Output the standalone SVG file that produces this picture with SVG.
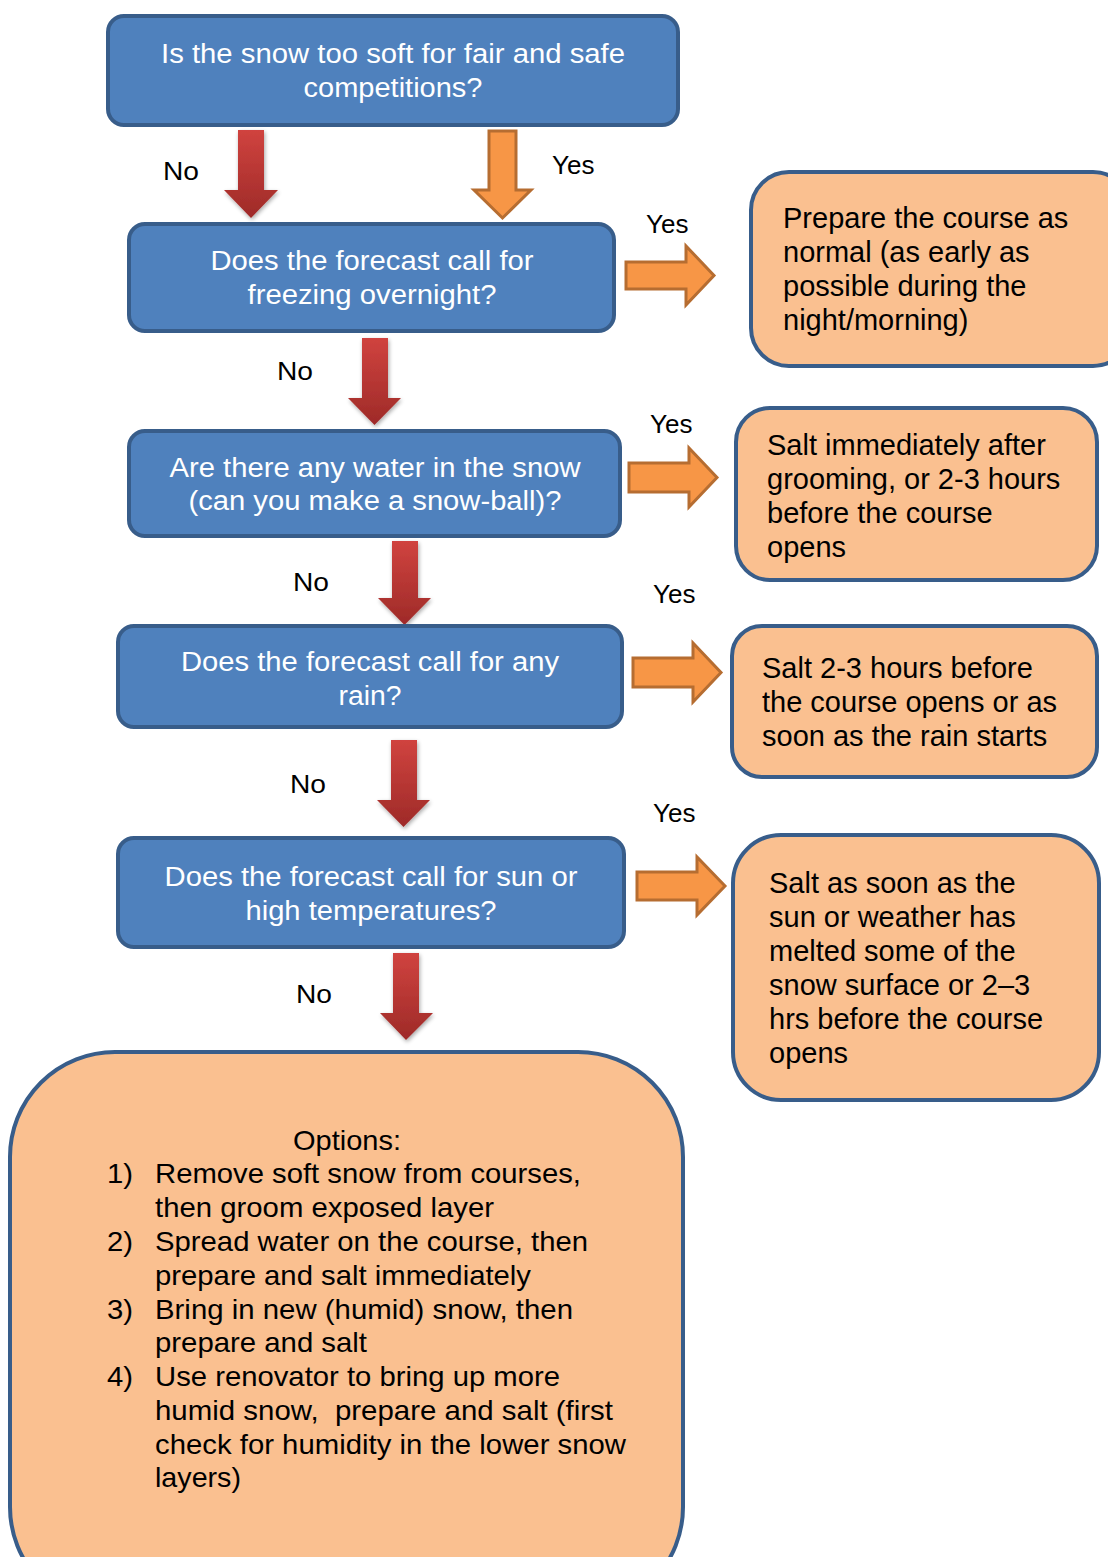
<svg xmlns="http://www.w3.org/2000/svg" width="1108" height="1557" viewBox="0 0 1108 1557">
<defs>
<linearGradient id="red" x1="0" y1="0" x2="0" y2="1">
<stop offset="0" stop-color="#D0433F"/>
<stop offset="1" stop-color="#9E2A28"/>
</linearGradient>
<filter id="sh" x="-30%" y="-30%" width="160%" height="160%">
<feGaussianBlur in="SourceAlpha" stdDeviation="2"/>
<feOffset dx="1" dy="2"/>
<feComponentTransfer><feFuncA type="linear" slope="0.35"/></feComponentTransfer>
<feMerge><feMergeNode/><feMergeNode in="SourceGraphic"/></feMerge>
</filter>
</defs>
<style>
.q{fill:#4F81BD;stroke:#385D8A;stroke-width:4}
.a{fill:#FAC090;stroke:#385D8A;stroke-width:4}
.qt{font-family:"Liberation Sans",Arial,sans-serif;font-size:27px;fill:#fff;text-anchor:middle}
.at{font-family:"Liberation Sans",Arial,sans-serif;font-size:29px;fill:#000}
.ot{font-family:"Liberation Sans",Arial,sans-serif;font-size:28px;fill:#000}
.lb{font-family:"Liberation Sans",Arial,sans-serif;font-size:26px;fill:#000}
.ra{fill:url(#red);filter:url(#sh)}
.oa{fill:#F79646;stroke:#B66D31;stroke-width:3}
</style>

<g id="connectors">
<path class="ra" d="M238,130 H264 V190 H278 L251,218 L224,190 H238 Z"/>
<path class="oa" d="M489,131 H516 V190 H531 L502.5,218 L474,190 H489 Z"/>
<path class="ra" d="M362,338 H388 V398 H401 L374.5,425 L348,398 H362 Z"/>
<path class="ra" d="M392,541 H418 V598 H431 L404.5,625 L378,598 H392 Z"/>
<path class="ra" d="M391,740 H417 V800 H430 L403.5,827 L377,800 H391 Z"/>
<path class="ra" d="M393,953 H419 V1013 H433 L406,1040 L380,1013 H393 Z"/>
<path class="oa" d="M626,262 H686 V246 L714,275.5 L686,305 V289 H626 Z"/>
<path class="oa" d="M629,463 H689 V448 L717,477.5 L689,507 V492 H629 Z"/>
<path class="oa" d="M633,658 H693 V643 L721,672.5 L693,702 V687 H633 Z"/>
<path class="oa" d="M637,872 H697 V857 L725,886 L697,915 V900 H637 Z"/>
<text class="lb" x="163" y="180" textLength="36" lengthAdjust="spacingAndGlyphs">No</text>
<text class="lb" x="552" y="174">Yes</text>
<text class="lb" x="646" y="233">Yes</text>
<text class="lb" x="277" y="380" textLength="36" lengthAdjust="spacingAndGlyphs">No</text>
<text class="lb" x="650" y="433">Yes</text>
<text class="lb" x="293" y="591" textLength="36" lengthAdjust="spacingAndGlyphs">No</text>
<text class="lb" x="653" y="603">Yes</text>
<text class="lb" x="290" y="793" textLength="36" lengthAdjust="spacingAndGlyphs">No</text>
<text class="lb" x="653" y="822">Yes</text>
<text class="lb" x="296" y="1003" textLength="36" lengthAdjust="spacingAndGlyphs">No</text>
</g>

<g id="q1">
<rect class="q" x="108" y="16" width="570" height="109" rx="16"/>
<text class="qt" x="393" y="63" textLength="464" lengthAdjust="spacingAndGlyphs">Is the snow too soft for fair and safe</text>
<text class="qt" x="393" y="97" textLength="179" lengthAdjust="spacingAndGlyphs">competitions?</text>
</g>
<g id="q2">
<rect class="q" x="129" y="224" width="485" height="107" rx="16"/>
<text class="qt" x="372" y="270" textLength="323" lengthAdjust="spacingAndGlyphs">Does the forecast call for</text>
<text class="qt" x="372" y="304" textLength="249" lengthAdjust="spacingAndGlyphs">freezing overnight?</text>
</g>
<g id="q3">
<rect class="q" x="129" y="431" width="491" height="105" rx="16"/>
<text class="qt" x="375" y="477" textLength="411" lengthAdjust="spacingAndGlyphs">Are there any water in the snow</text>
<text class="qt" x="375" y="510" textLength="373" lengthAdjust="spacingAndGlyphs">(can you make a snow-ball)?</text>
</g>
<g id="q4">
<rect class="q" x="118" y="626" width="504" height="101" rx="16"/>
<text class="qt" x="370" y="671" textLength="378" lengthAdjust="spacingAndGlyphs">Does the forecast call for any</text>
<text class="qt" x="370" y="705" textLength="63" lengthAdjust="spacingAndGlyphs">rain?</text>
</g>
<g id="q5">
<rect class="q" x="118" y="838" width="506" height="109" rx="16"/>
<text class="qt" x="371" y="886" textLength="413" lengthAdjust="spacingAndGlyphs">Does the forecast call for sun or</text>
<text class="qt" x="371" y="920" textLength="251" lengthAdjust="spacingAndGlyphs">high temperatures?</text>
</g>

<g id="a1">
<rect class="a" x="751" y="172" width="380" height="194" rx="38"/>
<text class="at" x="783" y="228">Prepare the course as</text>
<text class="at" x="783" y="262">normal (as early as</text>
<text class="at" x="783" y="296">possible during the</text>
<text class="at" x="783" y="330">night/morning)</text>
</g>
<g id="a2">
<rect class="a" x="736" y="408" width="361" height="172" rx="34"/>
<text class="at" x="767" y="455">Salt immediately after</text>
<text class="at" x="767" y="489">grooming, or 2-3 hours</text>
<text class="at" x="767" y="523">before the course</text>
<text class="at" x="767" y="557">opens</text>
</g>
<g id="a3">
<rect class="a" x="732" y="626" width="365" height="151" rx="30"/>
<text class="at" x="762" y="678">Salt 2-3 hours before</text>
<text class="at" x="762" y="712">the course opens or as</text>
<text class="at" x="762" y="746">soon as the rain starts</text>
</g>
<g id="a4">
<rect class="a" x="733" y="835" width="366" height="265" rx="48"/>
<text class="at" x="769" y="893">Salt as soon as the</text>
<text class="at" x="769" y="927">sun or weather has</text>
<text class="at" x="769" y="961">melted some of the</text>
<text class="at" x="769" y="995">snow surface or 2–3</text>
<text class="at" x="769" y="1029">hrs before the course</text>
<text class="at" x="769" y="1063">opens</text>
</g>

<g id="options">
<rect class="a" x="10" y="1052" width="673" height="560" rx="105"/>
<text class="ot" x="293" y="1150" textLength="108" lengthAdjust="spacingAndGlyphs">Options:</text>
<text class="ot" x="107" y="1183" textLength="26" lengthAdjust="spacingAndGlyphs">1)</text>
<text class="ot" x="155" y="1183" textLength="426" lengthAdjust="spacingAndGlyphs">Remove soft snow from courses,</text>
<text class="ot" x="155" y="1217" textLength="339" lengthAdjust="spacingAndGlyphs">then groom exposed layer</text>
<text class="ot" x="107" y="1251" textLength="26" lengthAdjust="spacingAndGlyphs">2)</text>
<text class="ot" x="155" y="1251" textLength="433" lengthAdjust="spacingAndGlyphs">Spread water on the course, then</text>
<text class="ot" x="155" y="1285" textLength="376" lengthAdjust="spacingAndGlyphs">prepare and salt immediately</text>
<text class="ot" x="107" y="1319" textLength="26" lengthAdjust="spacingAndGlyphs">3)</text>
<text class="ot" x="155" y="1319" textLength="418" lengthAdjust="spacingAndGlyphs">Bring in new (humid) snow, then</text>
<text class="ot" x="155" y="1352" textLength="212" lengthAdjust="spacingAndGlyphs">prepare and salt</text>
<text class="ot" x="107" y="1386" textLength="26" lengthAdjust="spacingAndGlyphs">4)</text>
<text class="ot" x="155" y="1386" textLength="405" lengthAdjust="spacingAndGlyphs">Use renovator to bring up more</text>
<text class="ot" x="155" y="1420" textLength="458" lengthAdjust="spacingAndGlyphs" xml:space="preserve">humid snow,  prepare and salt (first</text>
<text class="ot" x="155" y="1454" textLength="471" lengthAdjust="spacingAndGlyphs">check for humidity in the lower snow</text>
<text class="ot" x="155" y="1487" textLength="86" lengthAdjust="spacingAndGlyphs">layers)</text>
</g>
</svg>
